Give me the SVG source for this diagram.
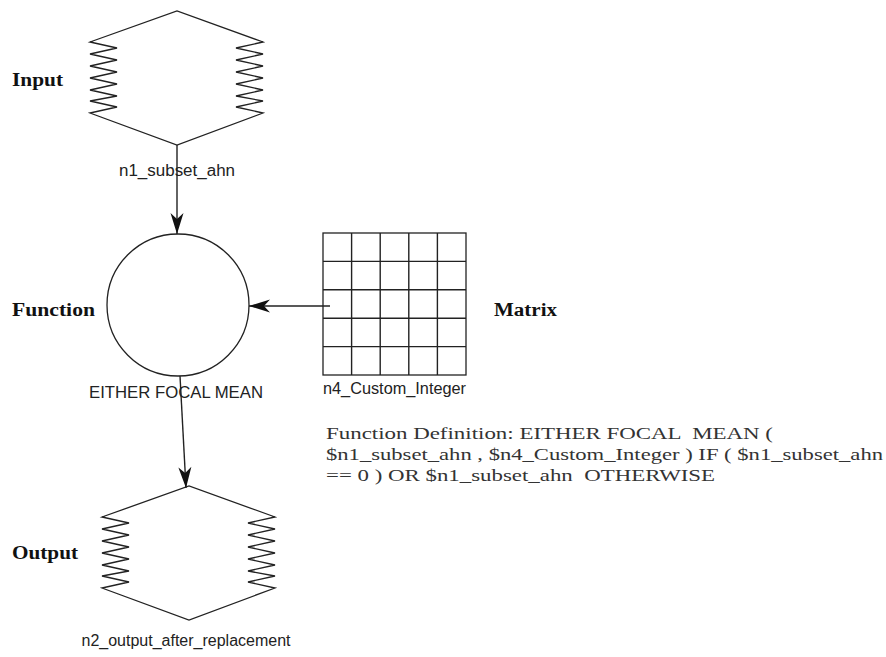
<svg xmlns="http://www.w3.org/2000/svg" xmlns:xlink="http://www.w3.org/1999/xlink" width="886" height="657" viewBox="0 0 886 657">
<style>
.shape{fill:#fff;stroke:#222;stroke-width:1.3}
.conn{fill:none;stroke:#222;stroke-width:1.4}
.lbl{font-family:"Liberation Sans",Arial,sans-serif;font-size:16px;fill:#222;text-anchor:middle}
.big{font-family:"Liberation Serif","Times New Roman",serif;font-size:18px;font-weight:bold;fill:#111}
.def{font-family:"Liberation Serif","Times New Roman",serif;font-size:17px;fill:#333;white-space:pre}
</style>
<defs>
<path id="raster" class="shape" d="M90,42 L177,11 L263,42 L236,48 L263,54 L236,60 L263,66 L236,72 L263,78 L236,84 L263,90 L236,96 L263,101 L236,107 L263,113 L177,145 L90,113 L117,107 L90,101 L117,96 L90,90 L117,84 L90,78 L117,72 L90,66 L117,60 L90,54 L117,48 Z"/>
<marker id="arr" markerUnits="userSpaceOnUse" markerWidth="24" markerHeight="16" viewBox="-22 -8 24 16" refX="0" refY="0" orient="auto">
<path d="M0,0 L-21,-6.5 L-15,0 L-21,6.5 Z" fill="#111"/>
</marker>
</defs>
<rect width="886" height="657" fill="#fff"/>
<g id="n1">
<use xlink:href="#raster"/>
<text class="lbl" x="177" y="176" textLength="116" lengthAdjust="spacingAndGlyphs">n1_subset_ahn</text>
</g>
<g id="func">
<circle class="shape" cx="178" cy="305" r="71"/>
<text class="lbl" x="176" y="398" textLength="174" lengthAdjust="spacingAndGlyphs">EITHER FOCAL MEAN</text>
</g>
<g id="n4">
<rect class="shape" x="323" y="233" width="143" height="142"/>
<path class="conn" d="M351.6,233 V375 M380.2,233 V375 M408.8,233 V375 M437.4,233 V375 M323,261.4 H466 M323,289.8 H466 M323,318.2 H466 M323,346.6 H466"/>
<text class="lbl" x="394.5" y="394" textLength="143" lengthAdjust="spacingAndGlyphs">n4_Custom_Integer</text>
</g>
<g id="n2">
<use xlink:href="#raster" transform="translate(12,475)"/>
<text class="lbl" x="186" y="646" textLength="209" lengthAdjust="spacingAndGlyphs">n2_output_after_replacement</text>
</g>
<g id="labels">
<text class="big" x="12" y="86" textLength="51" lengthAdjust="spacingAndGlyphs">Input</text>
<text class="big" x="12" y="316" textLength="83" lengthAdjust="spacingAndGlyphs">Function</text>
<text class="big" x="494" y="316" textLength="63" lengthAdjust="spacingAndGlyphs">Matrix</text>
<text class="big" x="12" y="559" textLength="66" lengthAdjust="spacingAndGlyphs">Output</text>
</g>
<g id="definition">
<text class="def" x="326" y="439" textLength="447" lengthAdjust="spacingAndGlyphs">Function Definition: EITHER FOCAL  MEAN (</text>
<text class="def" x="326" y="460" textLength="557" lengthAdjust="spacingAndGlyphs">$n1_subset_ahn , $n4_Custom_Integer ) IF ( $n1_subset_ahn</text>
<text class="def" x="326" y="481" textLength="389" lengthAdjust="spacingAndGlyphs">== 0 ) OR $n1_subset_ahn  OTHERWISE</text>
</g>
<g id="connectors">
<path class="conn" d="M177,145 L177,234" marker-end="url(#arr)"/>
<path class="conn" d="M330,306 L249,306" marker-end="url(#arr)"/>
<path class="conn" d="M180,376 L186,488" marker-end="url(#arr)"/>
</g>
</svg>
